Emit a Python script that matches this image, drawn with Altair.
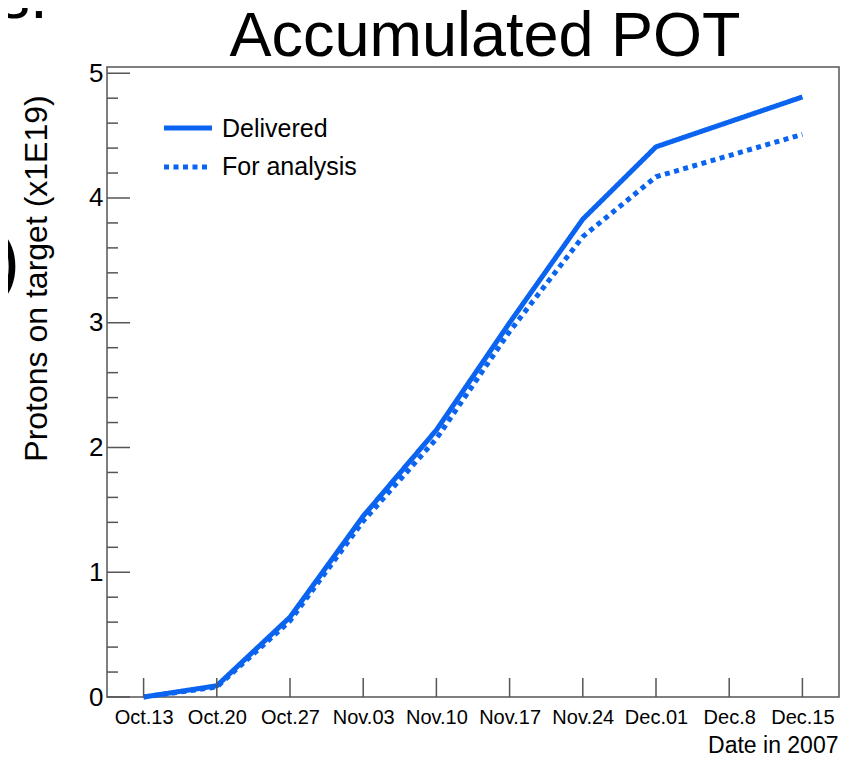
import altair as alt
import pandas as pd

# ---------------- data ----------------
dates = ["Oct.13", "Oct.20", "Oct.27", "Nov.03", "Nov.10",
         "Nov.17", "Nov.24", "Dec.01", "Dec.8", "Dec.15"]
delivered = [0.00, 0.09, 0.64, 1.45, 2.14, 3.00, 3.83, 4.41, 4.61, 4.81]
for_analysis = [0.00, 0.08, 0.61, 1.41, 2.07, 2.93, 3.69, 4.17, 4.34, 4.51]
series_names = ["Delivered", "For analysis"]
y_major_ticks = [0, 1, 2, 3, 4, 5]
y_minor_ticks = [0.2, 0.4, 0.6, 0.8, 1.2, 1.4, 1.6, 1.8, 2.2, 2.4, 2.6, 2.8,
                 3.2, 3.4, 3.6, 3.8, 4.2, 4.4, 4.6, 4.8]
title_text = "Accumulated POT"
x_title = "Date in 2007"
y_title = "Protons on target (x1E19)"

BLUE = "#0a64f0"
TICK = "#555555"
FONT = "Liberation Sans"

rows = []
for d, a, b in zip(dates, delivered, for_analysis):
    rows.append({"date": d, "series": series_names[0], "value": a})
    rows.append({"date": d, "series": series_names[1], "value": b})
df = pd.DataFrame(rows)

W, H = 732, 630
x_scale = alt.Scale(type="point", domain=dates, padding=0.5)
y_scale = alt.Scale(domain=[0, 5.05], nice=False, zero=False)

x_axis = alt.Axis(title=x_title, labelAngle=0, ticks=False, tickSize=0, domain=False,
                  grid=False, labelFont=FONT, labelFontSize=20, labelColor="black",
                  labelPadding=10, labelOverlap=False,
                  titleFont=FONT, titleFontSize=23, titleFontWeight="normal",
                  titleColor="black", titleX=W - 1, titleY=48, titleAlign="right",
                  titleBaseline="middle")
y_axis = alt.Axis(title=y_title, values=y_major_ticks, ticks=False, tickSize=0,
                  domain=False, grid=False, labelFont=FONT, labelFontSize=26,
                  labelColor="black", labelPadding=4, labelFlush=False,
                  titleFont=FONT, titleFontSize=32, titleFontWeight="normal",
                  titleColor="black", titleAngle=270, titleX=-71, titleY=211,
                  titleAlign="center", titleBaseline="middle")

lines = alt.Chart(df).mark_line(strokeWidth=5, color=BLUE, strokeCap="butt").encode(
    x=alt.X("date:N", scale=x_scale, sort=dates, axis=x_axis),
    y=alt.Y("value:Q", scale=y_scale, axis=y_axis),
    strokeDash=alt.StrokeDash("series:N",
                              scale=alt.Scale(domain=series_names, range=[[1, 0], [5, 4.5]]),
                              legend=None),
)

ymaj = alt.Chart(pd.DataFrame({"value": y_major_ticks})).mark_rule(color=TICK, strokeWidth=1.5).encode(
    y=alt.Y("value:Q", scale=y_scale, axis=y_axis), x=alt.value(0), x2=alt.value(23))
ymin = alt.Chart(pd.DataFrame({"value": y_minor_ticks})).mark_rule(color=TICK, strokeWidth=1.5).encode(
    y=alt.Y("value:Q", scale=y_scale, axis=y_axis), x=alt.value(0), x2=alt.value(11))
xt = alt.Chart(pd.DataFrame({"date": dates})).mark_rule(color=TICK, strokeWidth=1.5).encode(
    x=alt.X("date:N", scale=x_scale, sort=dates, axis=x_axis), y=alt.value(H), y2=alt.value(H - 19))

leg_solid = alt.Chart(pd.DataFrame({"label": [series_names[0]]})).mark_rule(
    color=BLUE, strokeWidth=5).encode(x=alt.value(57), x2=alt.value(105), y=alt.value(61))
leg_dot = alt.Chart(pd.DataFrame({"label": [series_names[1]]})).mark_rule(
    color=BLUE, strokeWidth=5, strokeDash=[5, 4.5]).encode(x=alt.value(57), x2=alt.value(103), y=alt.value(100))
leg_t1 = alt.Chart(pd.DataFrame({"label": [series_names[0]]})).mark_text(
    align="left", baseline="middle", font=FONT, fontSize=25, color="black").encode(
    text="label:N", x=alt.value(115), y=alt.value(62))
leg_t2 = alt.Chart(pd.DataFrame({"label": [series_names[1]]})).mark_text(
    align="left", baseline="middle", font=FONT, fontSize=25, color="black").encode(
    text="label:N", x=alt.value(115), y=alt.value(100))

title = alt.Chart(pd.DataFrame({"t": [title_text]})).mark_text(
    align="center", baseline="alphabetic", font=FONT, fontSize=63, color="black").encode(
    text="t:N", x=alt.value(378), y=alt.value(-11))

# cropped slide fragments visible at the left edge of the picture
frag1 = alt.Chart(pd.DataFrame({"t": ["s."]})).mark_text(
    align="left", baseline="alphabetic", font=FONT, fontSize=64, color="black").encode(
    text="t:N", x=alt.value(-109), y=alt.value(-49))
frag2 = alt.Chart(pd.DataFrame({"t": [")"]})).mark_text(
    align="right", baseline="alphabetic", font=FONT, fontSize=76, color="black").encode(
    text="t:N", x=alt.value(-87), y=alt.value(219))

chart = alt.layer(lines, ymaj, ymin, xt, leg_solid, leg_dot, leg_t1, leg_t2, title, frag1, frag2).properties(
    width=W, height=H,
    autosize=alt.AutoSizeParams(type="none"),
    padding={"left": 99, "top": 59, "right": 5, "bottom": 59},
    background="white",
).configure_view(stroke="#555555", strokeWidth=1.5)

chart.save("out.html", embed_options={"renderer": "svg", "actions": False})
